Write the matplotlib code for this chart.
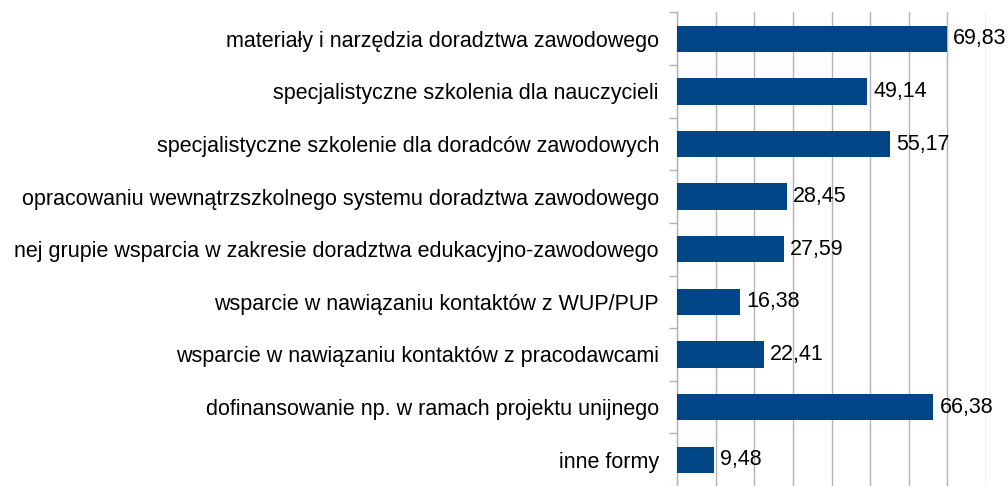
import matplotlib
matplotlib.use('Agg')
import matplotlib.pyplot as plt
import numpy as np
from matplotlib.ticker import MultipleLocator, FixedLocator

plt.rcParams['font.family'] = ['Liberation Sans', 'DejaVu Sans']

# data (top to bottom); two long labels are
# cut at the left edge in the source, only their visible part is kept
categories = [
    'materiały i narzędzia doradztwa zawodowego',
    'specjalistyczne szkolenia dla nauczycieli',
    'specjalistyczne szkolenie dla doradców zawodowych',
    'opracowaniu wewnątrzszkolnego systemu doradztwa zawodowego',
    'nej grupie wsparcia w zakresie doradztwa edukacyjno-zawodowego',
    'wsparcie w nawiązaniu kontaktów z WUP/PUP',
    'wsparcie w nawiązaniu kontaktów z pracodawcami',
    'dofinansowanie np. w ramach projektu unijnego',
    'inne formy',
]
values = [69.83, 49.14, 55.17, 28.45, 27.59, 16.38, 22.41, 66.38, 9.48]
value_labels = ['69,83', '49,14', '55,17', '28,45', '27,59', '16,38', '22,41', '66,38', '9,48']

BAR_COLOR = '#004586'
GRID_COLOR = '#b3b3b3'
FS = 15.5

fig = plt.figure(figsize=(10.08, 4.86), dpi=100)
ax = fig.add_axes([677/1008, 0.0, (986-677)/1008, 1 - 12.5/486])

y = np.arange(len(categories))
ax.barh(y, values, height=0.5, color=BAR_COLOR, zorder=3)

for yi, v, lab in zip(y, values, value_labels):
    ax.annotate(lab, xy=(v, yi), xytext=(4.5, 0), textcoords='offset points',
                va='center', ha='left', fontsize=FS, color='black', zorder=4)

ax.set_xlim(0, 80)
ax.set_ylim(len(categories) - 0.5, -0.5)

ax.xaxis.set_major_locator(MultipleLocator(10))
ax.grid(axis='x', color=GRID_COLOR, linewidth=1.0, zorder=0)
ax.tick_params(axis='x', bottom=False, labelbottom=False)

ax.set_yticks(y)
ax.set_yticklabels(categories, fontsize=FS)
ax.tick_params(axis='y', which='major', length=0, pad=13)
ax.yaxis.set_minor_locator(FixedLocator(np.arange(-0.5, len(categories), 1.0)))
ax.tick_params(axis='y', which='minor', length=6, width=1, color=GRID_COLOR)

for s in ['top', 'right', 'bottom']:
    ax.spines[s].set_visible(False)
ax.spines['left'].set_color(GRID_COLOR)
ax.spines['left'].set_linewidth(1.0)

fig.savefig('out.png', dpi=100)
